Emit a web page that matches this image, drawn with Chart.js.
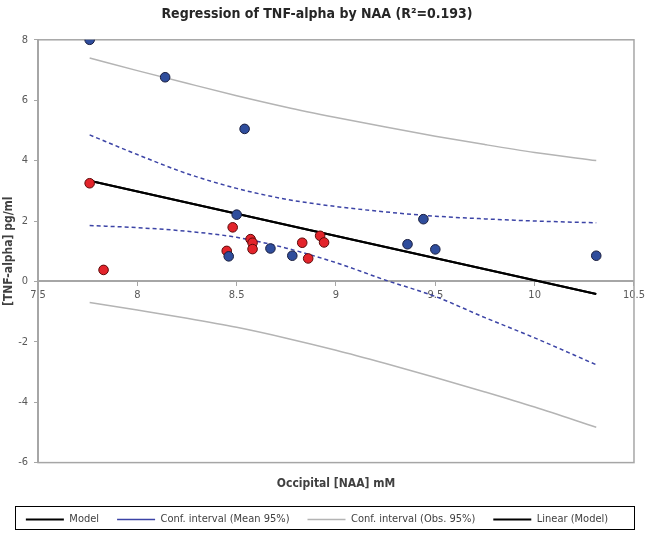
<!DOCTYPE html>
<html>
<head>
<meta charset="utf-8">
<script src="https://cdn.jsdelivr.net/npm/chart.js@4.4.1/dist/chart.umd.min.js"></script>
<style>
  html, body { margin: 0; padding: 0; background: #fff; }
</style>
</head>
<body>
<canvas id="regChart" width="648" height="535"></canvas>
<script>
// observations, group 1 (blue)
const blueX = [7.76, 8.14, 8.54, 8.50, 8.46, 8.67, 8.78, 9.36, 9.44, 9.50, 10.31];
const blueY = [8.00, 6.76, 5.05, 2.21, 0.83, 1.09, 0.85, 1.23, 2.06, 1.06, 0.85];
// observations, group 2 (red)
const redX = [7.76, 7.83, 8.45, 8.48, 8.57, 8.58, 8.58, 8.83, 8.86, 8.92, 8.94];
const redY = [3.25, 0.38, 1.01, 1.79, 1.40, 1.28, 1.07, 1.28, 0.76, 1.51, 1.29];

// fitted line
const modelX = [7.76, 10.31];
const modelY = [3.33, -0.42];

// confidence bands
const bandX      = [7.76, 8.0, 8.25, 8.5, 8.75, 9.0, 9.25, 9.5, 9.75, 10.0, 10.31];
const meanUpper  = [4.85, 4.20, 3.57, 3.08, 2.72, 2.48, 2.30, 2.16, 2.07, 2.00, 1.94];
const meanLower  = [1.85, 1.78, 1.66, 1.46, 1.10, 0.62, 0.04, -0.50, -1.20, -1.87, -2.76];
const obsUpper   = [7.40, 6.98, 6.56, 6.15, 5.77, 5.43, 5.11, 4.81, 4.53, 4.27, 4.00];
const obsLower   = [-0.70, -0.95, -1.22, -1.52, -1.88, -2.28, -2.72, -3.18, -3.66, -4.16, -4.83];

const xTickValues = [7.5, 8, 8.5, 9, 9.5, 10, 10.5];
const yTickValues = [-6, -4, -2, 0, 2, 4, 6, 8];

const toPts = (xs, ys) => xs.map((x, i) => ({ x: x, y: ys[i] }));

Chart.defaults.font.family = "'Liberation Sans Narrow', 'DejaVu Sans Condensed', 'Liberation Sans', sans-serif";
Chart.defaults.color = '#595959';

// plot frame + box round the legend
const framePlugin = {
  id: 'frame',
  beforeDatasetsDraw(chart) {
    const { ctx, chartArea: a } = chart;
    ctx.save();
    ctx.strokeStyle = '#a6a6a6';
    ctx.lineWidth = 1.5;
    ctx.strokeRect(a.left, a.top, a.right - a.left, a.bottom - a.top);
    ctx.restore();
  },
  afterDraw(chart) {
    const lg = chart.legend;
    const ctx = chart.ctx;
    ctx.save();
    ctx.strokeStyle = '#000';
    ctx.lineWidth = 1;
    ctx.strokeRect(15.5, Math.round(lg.bottom) - 28.5, 619, 23);
    ctx.restore();
  }
};

const lineDs = (label, xs, ys, color, width, dash, inLegend) => ({
  label: label,
  data: toPts(xs, ys),
  showLine: true,
  borderColor: color,
  backgroundColor: color,
  borderWidth: width,
  borderDash: dash,
  pointRadius: 0,
  pointHoverRadius: 0,
  cubicInterpolationMode: 'monotone',
  hideInLegend: !inLegend
});

new Chart(document.getElementById('regChart'), {
  type: 'scatter',
  data: {
    datasets: [
      {
        label: 'Group 1',
        data: toPts(blueX, blueY),
        backgroundColor: '#2f4d9c',
        borderColor: '#1b1f3f',
        borderWidth: 1,
        pointRadius: 4.8,
        hideInLegend: true
      },
      {
        label: 'Group 2',
        data: toPts(redX, redY),
        backgroundColor: '#e3242b',
        borderColor: '#5c0a0a',
        borderWidth: 1,
        pointRadius: 4.8,
        hideInLegend: true
      },
      lineDs('Model', modelX, modelY, '#000000', 2, [], true),
      lineDs('Conf. interval (Mean 95%)', bandX, meanUpper, '#3c44a6', 1.5, [4, 3], true),
      lineDs('Conf. interval (Mean 95%)', bandX, meanLower, '#3c44a6', 1.5, [4, 3], false),
      lineDs('Conf. interval (Obs. 95%)', bandX, obsUpper, '#b4b4b4', 1.5, [], true),
      lineDs('Conf. interval (Obs. 95%)', bandX, obsLower, '#b4b4b4', 1.5, [], false),
      lineDs('Linear (Model)', modelX, modelY, '#000000', 2, [], true)
    ]
  },
  options: {
    responsive: false,
    animation: false,
    layout: { padding: { top: 0, right: 14, bottom: 0, left: 0 } },
    plugins: {
      title: {
        display: true,
        text: 'Regression of TNF-alpha by NAA (R²=0.193)',
        color: '#262626',
        font: { size: 14, weight: 'bold' },
        padding: { top: 6, bottom: 17 }
      },
      legend: {
        position: 'bottom',
        labels: {
          usePointStyle: true,
          pointStyleWidth: 38,
          padding: 18,
          color: '#404040',
          font: { size: 11 },
          generateLabels: chart =>
            Chart.defaults.plugins.legend.labels.generateLabels(chart)
              .filter(l => !chart.data.datasets[l.datasetIndex].hideInLegend)
              .map(l => Object.assign(l, { pointStyle: 'line' }))
        }
      },
      tooltip: { enabled: false }
    },
    scales: {
      x: {
        type: 'linear',
        position: { y: 0 },
        min: 7.5,
        max: 10.5,
        afterBuildTicks: s => { s.ticks = xTickValues.map(v => ({ value: v })); },
        grid: { drawOnChartArea: false, drawTicks: true, tickLength: 4, color: '#a6a6a6' },
        border: { color: '#a6a6a6', width: 2 },
        ticks: { font: { size: 11 }, padding: 3, maxRotation: 0, callback: v => String(v) }
      },
      xTitle: {
        type: 'linear',
        axis: 'x',
        position: 'bottom',
        min: 7.5,
        max: 10.5,
        grid: { display: false },
        border: { display: false },
        ticks: { display: false },
        title: {
          display: true,
          text: 'Occipital [NAA] mM',
          color: '#404040',
          font: { size: 12, weight: 'bold' },
          padding: { top: 6, bottom: 5 }
        }
      },
      y: {
        min: -6,
        max: 8,
        afterBuildTicks: s => { s.ticks = yTickValues.map(v => ({ value: v })); },
        afterFit: s => { s.width = 38; },
        grid: { drawOnChartArea: false, drawTicks: true, tickLength: 4, color: '#a6a6a6' },
        border: { color: '#a6a6a6', width: 2 },
        ticks: { font: { size: 11 }, padding: 6, callback: v => String(v) },
        title: {
          display: true,
          text: '[TNF-alpha] pg/ml',
          color: '#404040',
          font: { size: 12, weight: 'bold' },
          padding: { top: 2, bottom: 0 }
        }
      }
    }
  },
  plugins: [framePlugin]
});
</script>
</body>
</html>
